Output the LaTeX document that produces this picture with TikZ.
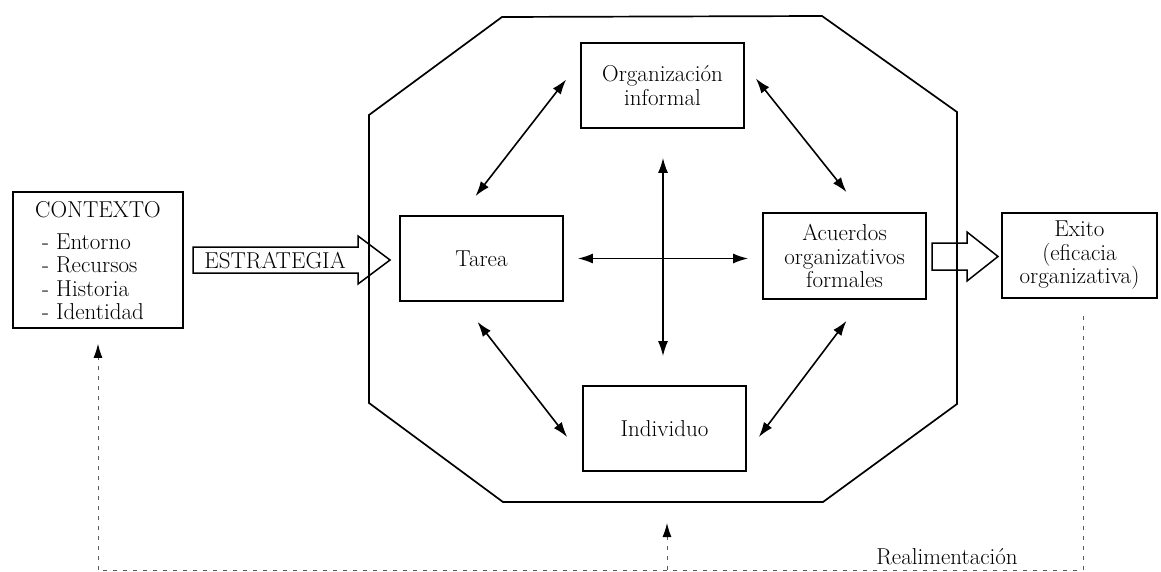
\documentclass[tikz,border=0pt]{standalone}
\usepackage{fontspec}
\usetikzlibrary{arrows.meta,calc}
\begin{document}
\begin{tikzpicture}[x=1pt,y=-1pt,
  font=\fontsize{23}{23.5}\selectfont,
  box/.style={draw, line width=1.7pt, minimum width=163pt, minimum height=85pt, align=center, inner sep=0pt},
  dbl/.style={{Latex[length=15pt,width=10pt]}-{Latex[length=15pt,width=10pt]}, line width=1.6pt},
  fb/.style={draw=black!65, line width=1pt, dash pattern=on 4pt off 6pt},
  fbtip/.style={-{Latex[length=14pt,width=9pt,color=black]}},
  bigarrow/.style={draw, line width=1.5pt, line join=miter}]
\useasboundingbox (0,0) rectangle (1161,572);

% left context box
\node[box, minimum width=170pt, minimum height=136pt] (ctx) at (98,260) {};
\node[inner sep=0pt] (ctxt) at (98,210) {CONTEXTO};
\node[align=left, anchor=west, inner sep=0pt] (ctxl) at (42,277) {- Entorno\\- Recursos\\- Historia\\- Identidad};

% strategy arrow
\draw[bigarrow] (193,247) -- (358,247) -- (358,236) -- (390,260) -- (358,284) -- (358,273) -- (193,273) -- cycle;
\node[inner sep=0pt] (estr) at (275,261) {ESTRATEGIA};

% output arrow
\draw[bigarrow] (932,243) -- (967,243) -- (967,232) -- (998,256.5) -- (967,281) -- (967,270) -- (932,270) -- cycle;

% octagon
\draw[line width=1.7pt, line join=miter] (502,17) -- (822,16) -- (957,112) -- (957,404) -- (823,502) -- (503,502) -- (369,403) -- (369,115) -- cycle;

% inner boxes
\node[box] (tarea) at (481.5,258.5) {Tarea};
\node[box] (org) at (662.5,85.5) {Organización\\informal};
\node[box, minimum height=86pt] (acu) at (844.5,256) {Acuerdos\\organizativos\\formales};
\node[box] (ind) at (664.5,428.5) {Individuo};
\node[box, minimum width=155pt] (exito) at (1079.5,255.5) {Exito\\(eficacia\\organizativa)};

% double arrows
\coordinate (a1) at ($(org.west)+(-14,-6)$);
\coordinate (b1) at ($(tarea.north)+(-6,-19)$);
\coordinate (a2) at ($(org.east)+(11,-7)$);
\coordinate (b2) at ($(acu.north)+(2,-20)$);
\coordinate (a3) at ($(tarea.south)+(-4,20)$);
\coordinate (b3) at ($(ind.west)+(-15,8.5)$);
\coordinate (a4) at ($(acu.south)+(2,21)$);
\coordinate (b4) at ($(ind.east)+(12,8.5)$);
\draw[dbl] (a1) -- (b1);
\draw[dbl] (a2) -- (b2);
\draw[dbl] (a3) -- (b3);
\draw[dbl] (a4) -- (b4);

% cross
\coordinate (v1) at ($(org.south)+(0.5,29)$);
\coordinate (v2) at ($(ind.north)+(-1.5,-29)$);
\coordinate (h1) at ($(tarea.east)+(14,0)$);
\coordinate (h2) at ($(acu.west)+(-14,2.5)$);
\draw[dbl] (v1) -- (v2);
\draw[dbl] (h1) -- (h2);

% feedback
\coordinate (fl) at (98,570);
\coordinate (fm) at (667,570);
\coordinate (fr) at (1083,570);
\coordinate (ftop) at ($(exito.south)+(3.5,17)$);
\coordinate (fctx) at ($(ctx.south)+(0,15)$);
\coordinate (foct) at (667,523);
\draw[fb] (ftop) -- (fr) -- (fl);
\draw[fb, fbtip] (fl) -- (fctx);
\draw[fb, fbtip] (fm) -- (foct);
\node[inner sep=0pt] (real) at (947,557) {Realimentación};
\end{tikzpicture}
\end{document}
